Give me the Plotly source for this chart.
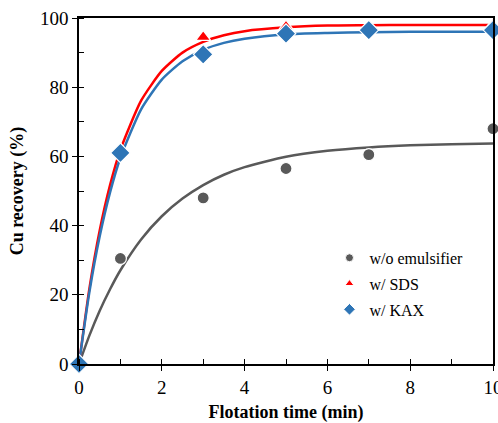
import plotly.graph_objects as go

# Measured flotation recovery (%) against time (min)
time_pts = [0, 1, 3, 5, 7, 10]
rec_none = [0, 30.5, 48, 56.5, 60.5, 68]
rec_sds = [0, 62, 94.5, 97.5, 97.5, 98]
rec_kax = [0, 61, 89.5, 95.5, 96.5, 96.5]

# Kinetic fit curves, sampled along the time axis
time_fit = [0, 0.25, 0.5, 0.75, 1, 1.5, 2, 2.5, 3, 3.5, 4, 5, 6, 7, 8, 9, 10]
fit_none = [0, 8.2, 15.4, 21.6, 27.1, 36.0, 42.7, 47.8, 51.7, 54.7, 56.9, 59.9, 61.6, 62.6, 63.2, 63.5, 63.7]
fit_sds = [0, 21.7, 38.6, 51.7, 61.9, 76.1, 84.7, 90.0, 93.1, 95.0, 96.2, 97.3, 97.8, 97.9, 98.0, 98.0, 98.0]
fit_kax = [0, 20.7, 36.9, 49.6, 59.6, 73.6, 82.2, 87.5, 90.8, 92.8, 94.0, 95.3, 95.7, 95.9, 96.0, 96.0, 96.0]

labels = ["w/o emulsifier", "w/ SDS", "w/ KAX"]
GRAY, RED, BLUE = "#595959", "#FF0000", "#2E75B6"
FONT = "Liberation Serif"

series = [
    (rec_none, fit_none, GRAY, "circle", 12, 8),
    (rec_sds, fit_sds, RED, "triangle-up", 13, 8),
    (rec_kax, fit_kax, BLUE, "diamond", 15, 9),
]

fig = go.Figure()

# fitted curves
for _, fy, col, _, _, _ in series:
    fig.add_trace(go.Scatter(x=time_fit, y=fy, mode="lines",
                             line=dict(color=col, width=2.5, shape="spline", smoothing=0.6),
                             showlegend=False, hoverinfo="skip"))

# measured points
for (ry, _, col, sym, size, _), name in zip(series, labels):
    fig.add_trace(go.Scatter(x=time_pts, y=ry, mode="markers", name=name, showlegend=False,
                             marker=dict(symbol=sym, size=size, color=col, line=dict(color="white", width=1.2)),
                             cliponaxis=False))

# legend entries with small symbols, one group each for row spacing
for (_, _, col, sym, _, lsize), name in zip(series, labels):
    fig.add_trace(go.Scatter(x=[None], y=[None], mode="markers", name=name, legendgroup=name,
                             marker=dict(symbol=sym, size=lsize, color=col, line=dict(color="white", width=1))))

# invisible helper trace carrying the inner halves of the major ticks
fig.add_trace(go.Scatter(x=[0], y=[0], xaxis="x2", yaxis="y2", mode="markers",
                         marker=dict(opacity=0), showlegend=False, hoverinfo="skip"))

tickfont = dict(family=FONT, size=19, color="black")
fig.update_layout(
    width=498, height=423,
    margin=dict(l=79, r=5, t=18, b=59),
    paper_bgcolor="white", plot_bgcolor="white",
    showlegend=True,
    legend=dict(x=0.605, y=0.356, xanchor="left", yanchor="top", bgcolor="rgba(0,0,0,0)",
                font=dict(family=FONT, size=16, color="black"), itemsizing="trace",
                tracegroupgap=2, itemwidth=30),
    xaxis=dict(range=[0, 10], tickvals=[0, 2, 4, 6, 8, 10], ticks="outside", ticklen=5, tickwidth=1.3,
               tickcolor="black", showline=True, linecolor="black", linewidth=1.5, mirror=True,
               showgrid=False, zeroline=False, tickfont=tickfont, ticklabeloverflow="allow", automargin=False,
               minor=dict(dtick=1, tick0=0, ticks="inside", ticklen=5, tickwidth=1.3, tickcolor="black", showgrid=False),
               title=dict(text="<b>Flotation time (min)</b>", font=dict(family=FONT, size=18, color="black"), standoff=10)),
    yaxis=dict(range=[0, 100], tickvals=[0, 20, 40, 60, 80, 100], ticks="outside", ticklen=5, tickwidth=1.3,
               tickcolor="black", showline=True, linecolor="black", linewidth=1.5, mirror=True,
               showgrid=False, zeroline=False, tickfont=tickfont, automargin=False,
               minor=dict(dtick=10, tick0=0, ticks="inside", ticklen=5, tickwidth=1.3, tickcolor="black", showgrid=False),
               title=dict(text="<b>Cu recovery (%)</b>", font=dict(family=FONT, size=18, color="black"), standoff=12)),
    xaxis2=dict(overlaying="x", anchor="y2", range=[0, 10], tickvals=[0, 2, 4, 6, 8, 10], ticks="inside",
                ticklen=5, tickwidth=1.3, tickcolor="black", showticklabels=False, showline=False,
                showgrid=False, zeroline=False, automargin=False),
    yaxis2=dict(overlaying="y", anchor="x2", range=[0, 100], tickvals=[0, 20, 40, 60, 80, 100], ticks="inside",
                ticklen=5, tickwidth=1.3, tickcolor="black", showticklabels=False, showline=False,
                showgrid=False, zeroline=False, automargin=False),
)

fig.write_html("out.html")
